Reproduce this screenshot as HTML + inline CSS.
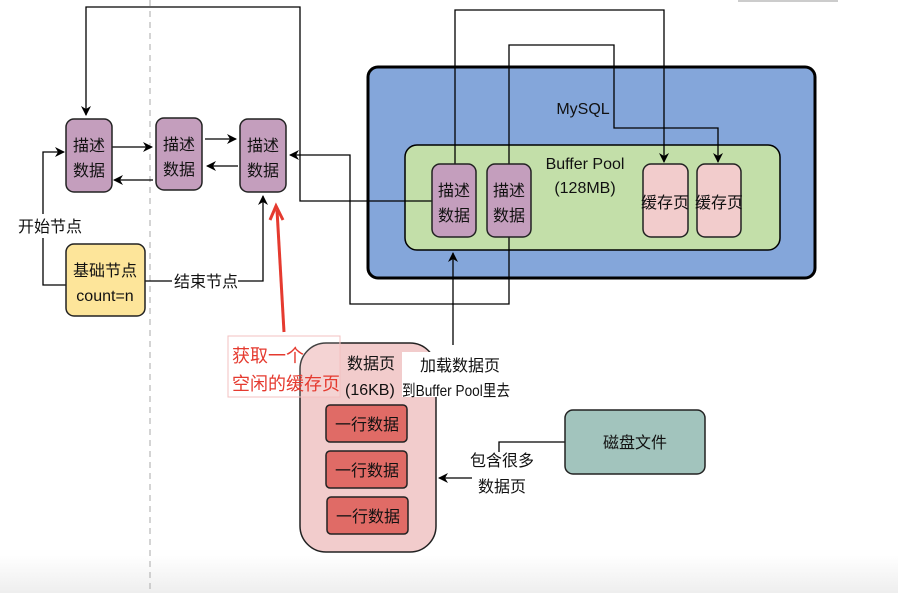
<!DOCTYPE html>
<html><head><meta charset="utf-8"><style>
html,body{margin:0;padding:0;background:#fff;}
svg{display:block;}
text{font-family:"Liberation Sans","Noto Sans CJK SC",sans-serif;font-size:15px;fill:#111;}
.n{font-size:16px;}
.red{font-size:18px;fill:#e53a2f;}
</style></head><body>
<svg width="898" height="593" viewBox="0 0 898 593" xmlns="http://www.w3.org/2000/svg">
<defs>
<marker id="a" markerWidth="10" markerHeight="10" refX="9" refY="5" orient="auto" markerUnits="userSpaceOnUse">
<path d="M0,0 L10,5 L0,10 L3,5 z" fill="#000"/></marker>
<linearGradient id="g" x1="0" y1="0" x2="0" y2="1"><stop offset="0" stop-color="#fff"/><stop offset="1" stop-color="#eeeeee"/></linearGradient>
</defs>
<rect x="0" y="555" width="898" height="38" fill="url(#g)"/>
<rect x="738" y="0" width="100" height="2" fill="#ccc"/>
<line x1="150" y1="0" x2="150" y2="593" stroke="#aaa" stroke-dasharray="6,5"/>

<rect x="368" y="67" width="447" height="211" rx="10" fill="#84a6da" stroke="#000" stroke-width="3"/>
<text class="n" x="583" y="114" text-anchor="middle">MySQL</text>
<rect x="405" y="145" width="375" height="105" rx="12" fill="#c3dfa9" stroke="#000" stroke-width="1.5"/>
<text class="n" x="585" y="169" text-anchor="middle">Buffer Pool</text>
<text class="n" x="585" y="193" text-anchor="middle">(128MB)</text>

<g fill="none" stroke="#000" stroke-width="1.3">
<polyline points="437,201 300,201 300,7 86,7 86,115" marker-end="url(#a)"/>
<polyline points="509,237 509,304 350,304 350,155 290,155" marker-end="url(#a)"/>
<polyline points="455,164 455,10 664,10 664,162" marker-end="url(#a)"/>
<polyline points="509,164 509,45 614,45 614,128 718,128 718,162" marker-end="url(#a)"/>
<line x1="112" y1="147" x2="152" y2="147" marker-end="url(#a)"/>
<line x1="153" y1="180" x2="114" y2="180" marker-end="url(#a)"/>
<line x1="205" y1="139" x2="236" y2="139" marker-end="url(#a)"/>
<line x1="238" y1="166" x2="207" y2="166" marker-end="url(#a)"/>
<polyline points="66,285 43,285 43,152 64,152" marker-end="url(#a)"/>
<polyline points="145,281 263,281 263,196" marker-end="url(#a)"/>
<line x1="453" y1="345" x2="453" y2="253" marker-end="url(#a)"/>
<polyline points="565,442 499,442 499,452"/>
<line x1="472" y1="478" x2="439" y2="478" marker-end="url(#a)"/>
<line x1="393" y1="372" x2="403" y2="372"/>
</g>

<g stroke="#222" stroke-width="1.5" fill="#c49ebd">
<rect x="66" y="119" width="46" height="73" rx="8"/>
<rect x="156" y="118" width="46" height="72" rx="8"/>
<rect x="240" y="119" width="46" height="73" rx="8"/>
<rect x="432" y="164" width="44" height="73" rx="8"/>
<rect x="487" y="164" width="44" height="73" rx="8"/>
</g>
<g stroke="#222" stroke-width="1.5" fill="#f2cccc">
<rect x="643" y="164" width="45" height="73" rx="8"/>
<rect x="697" y="164" width="44" height="73" rx="8"/>
</g>
<g text-anchor="middle">
<text class="n" x="89" y="151">描述</text><text class="n" x="89" y="176">数据</text>
<text class="n" x="179" y="150">描述</text><text class="n" x="179" y="175">数据</text>
<text class="n" x="263" y="151">描述</text><text class="n" x="263" y="176">数据</text>
<text class="n" x="454" y="196">描述</text><text class="n" x="454" y="221">数据</text>
<text class="n" x="509" y="196">描述</text><text class="n" x="509" y="221">数据</text>
<text class="n" x="665" y="208">缓存页</text>
<text class="n" x="719" y="208">缓存页</text>
</g>

<rect x="66" y="244" width="79" height="72" rx="8" fill="#fde59a" stroke="#222" stroke-width="1.5"/>
<text class="n" x="105" y="276" text-anchor="middle">基础节点</text>
<text class="n" x="105" y="301" text-anchor="middle">count=n</text>
<rect x="14" y="214" width="64" height="24" fill="#fff"/>
<text class="n" x="18" y="232">开始节点</text>
<rect x="172" y="270" width="66" height="22" fill="#fff"/>
<text class="n" x="174" y="287">结束节点</text>

<line x1="284" y1="332" x2="277" y2="210" stroke="#e53a2f" stroke-width="3"/>
<polyline points="270,220 276,206 283,220" fill="none" stroke="#e53a2f" stroke-width="3"/>

<rect x="300" y="343" width="136" height="209" rx="26" fill="#f2cccc" stroke="#222" stroke-width="1.5"/>
<rect x="228" y="336" width="112" height="61" fill="#fff" fill-opacity="0.15" stroke="#f3c0c0"/>
<text class="red" x="232" y="362">获取一个</text>
<text class="red" x="232" y="390">空闲的缓存页</text>
<text class="n" x="347" y="369">数据页</text>
<text class="n" x="345" y="395">(16KB)</text>
<rect x="402" y="352" width="108" height="45" fill="#fff"/>
<text class="n" x="420" y="371">加载数据页</text>
<text class="n" x="402" y="396" textLength="108" lengthAdjust="spacingAndGlyphs">到Buffer Pool里去</text>
<g fill="#e06b66" stroke="#222" stroke-width="1.5">
<rect x="326" y="405" width="81" height="37" rx="4"/>
<rect x="326" y="451" width="81" height="37" rx="4"/>
<rect x="327" y="497" width="81" height="37" rx="4"/>
</g>
<g text-anchor="middle">
<text class="n" x="367" y="430">一行数据</text>
<text class="n" x="367" y="476">一行数据</text>
<text class="n" x="368" y="522">一行数据</text>
</g>

<rect x="565" y="410" width="140" height="64" rx="8" fill="#a2c4bd" stroke="#222" stroke-width="1.5"/>
<text class="n" x="635" y="448" text-anchor="middle">磁盘文件</text>
<text class="n" x="502" y="466" text-anchor="middle">包含很多</text>
<text class="n" x="502" y="492" text-anchor="middle">数据页</text>
</svg>
</body></html>
